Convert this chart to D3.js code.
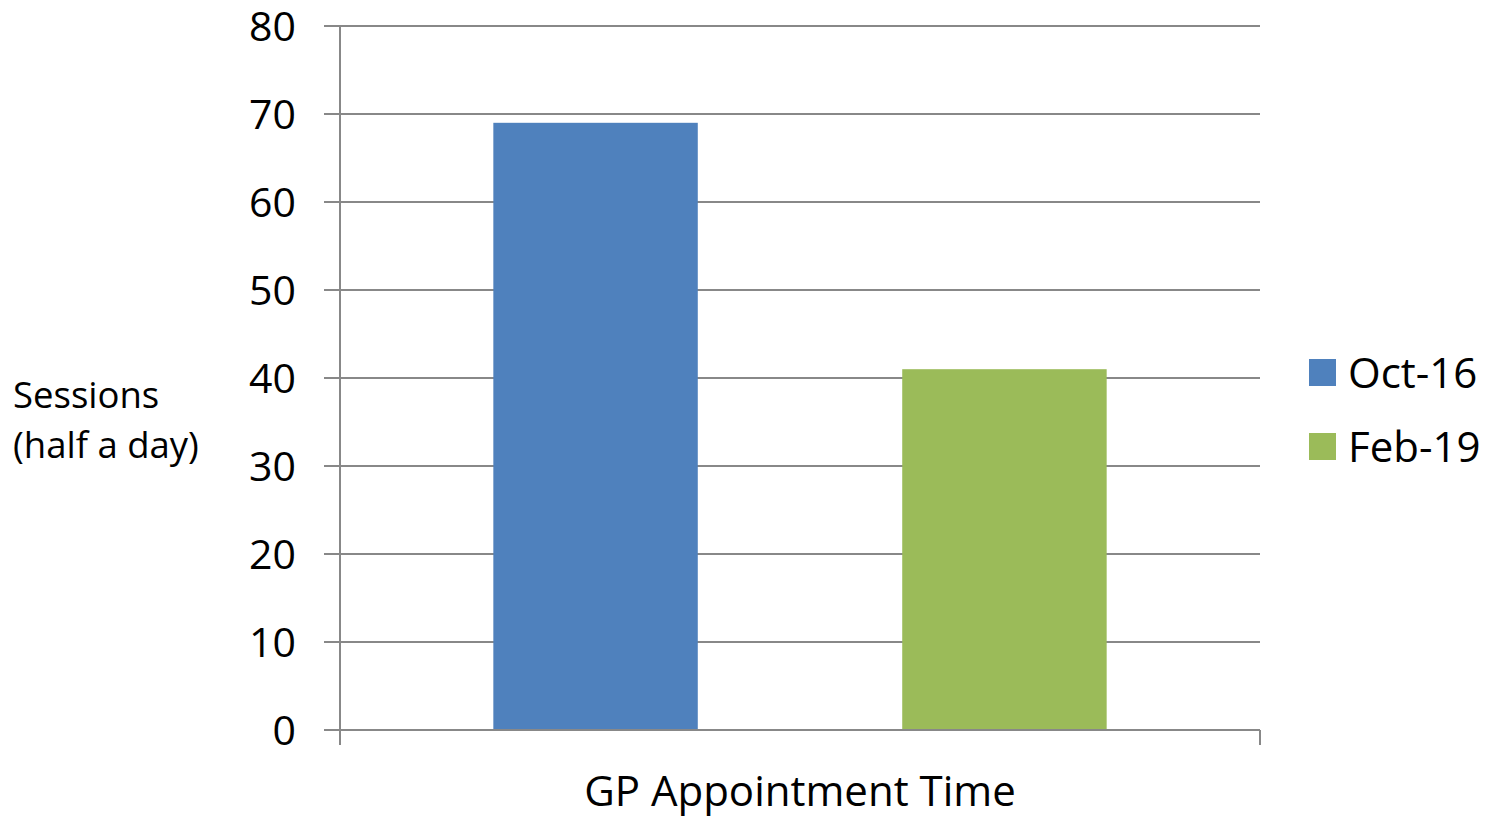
<!DOCTYPE html>
<html>
<head>
<meta charset="utf-8">
<script src="https://cdn.jsdelivr.net/npm/d3@7"></script>
<style>
  body { margin: 0; background: #fff; }
  text { font-family: "Open Sans", sans-serif; fill: #000; }
</style>
</head>
<body>
<script>
// chart data
const categories = ["GP Appointment Time"];
const seriesNames = ["Oct-16", "Feb-19"];
const seriesValues = [69, 41];
const colors = ["#4f81bd", "#9bbb59"];
const yTicks = [0, 10, 20, 30, 40, 50, 60, 70, 80];

const W = 1488, H = 818;
const plotLeft = 340, plotRight = 1260, plotTop = 26, plotBottom = 730;

const svg = d3.select("body").append("svg")
    .attr("width", W)
    .attr("height", H);

const y = d3.scaleLinear().domain([0, 80]).range([plotBottom, plotTop]);
const x0 = d3.scaleBand().domain(categories).range([plotLeft, plotRight]).padding(0);
const x1 = d3.scaleBand().domain(seriesNames).range([0, x0.bandwidth()])
    .paddingInner(0.5).paddingOuter(0.375);

// gridlines + left ticks
svg.append("g").selectAll("line")
    .data(yTicks)
    .enter().append("line")
    .attr("x1", plotLeft - 16)
    .attr("x2", plotRight)
    .attr("y1", d => y(d))
    .attr("y2", d => y(d))
    .attr("stroke", "#888")
    .attr("stroke-width", 2);

// y tick labels
svg.append("g").selectAll("text")
    .data(yTicks)
    .enter().append("text")
    .attr("x", 296)
    .attr("y", d => y(d))
    .attr("dy", "0.36em")
    .attr("text-anchor", "end")
    .style("font-size", "41px")
    .text(d => d);

// bars
svg.append("g").selectAll("rect")
    .data(seriesValues)
    .enter().append("rect")
    .attr("x", (d, i) => x0(categories[0]) + x1(seriesNames[i]))
    .attr("y", d => y(d))
    .attr("width", x1.bandwidth())
    .attr("height", d => y(0) - y(d))
    .attr("fill", (d, i) => colors[i]);

// axis lines
svg.append("line")
    .attr("x1", plotLeft).attr("x2", plotLeft)
    .attr("y1", plotTop).attr("y2", plotBottom + 15)
    .attr("stroke", "#888").attr("stroke-width", 2);
svg.append("line")
    .attr("x1", plotRight).attr("x2", plotRight)
    .attr("y1", plotBottom).attr("y2", plotBottom + 15)
    .attr("stroke", "#888").attr("stroke-width", 2);
svg.append("line")
    .attr("x1", plotLeft - 16).attr("x2", plotRight)
    .attr("y1", plotBottom).attr("y2", plotBottom)
    .attr("stroke", "#888").attr("stroke-width", 2);

// x axis title
svg.append("text")
    .attr("x", (plotLeft + plotRight) / 2)
    .attr("y", 806)
    .attr("text-anchor", "middle")
    .style("font-size", "42px")
    .text(categories[0]);

// y axis title
const yt = svg.append("text")
    .attr("x", 13)
    .style("font-size", "36.5px");
yt.append("tspan").attr("x", 13).attr("y", 408).text("Sessions");
yt.append("tspan").attr("x", 13).attr("y", 458).text("(half a day)");

// legend
const lg = svg.append("g").selectAll("g")
    .data(seriesNames)
    .enter().append("g")
    .attr("transform", (d, i) => "translate(1309," + (359 + i * 74) + ")");
lg.append("rect")
    .attr("width", 27).attr("height", 27)
    .attr("fill", (d, i) => colors[i]);
lg.append("text")
    .attr("x", 39)
    .attr("y", 14)
    .attr("dy", "0.36em")
    .style("font-size", "42px")
    .text(d => d);
</script>
</body>
</html>
